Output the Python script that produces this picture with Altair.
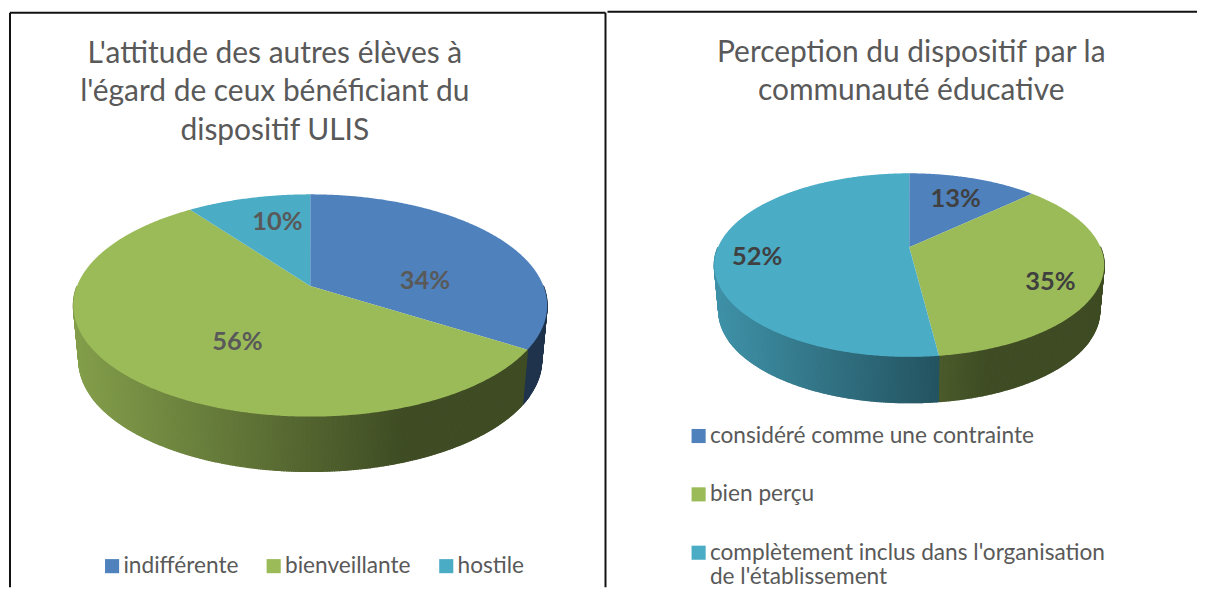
import math
import altair as alt
import pandas as pd

COLORS = ["#4f81bd", "#9bbb59", "#4bacc6"]
GREY = "#595959"

left_title = ["L'attitude des autres élèves à", "l'égard de ceux bénéficiant du", "dispositif ULIS"]
left_labels = ["indifférente", "bienveillante", "hostile"]
left_values = [34, 56, 10]
left_text_x = [418, 230, 270]
left_text_y = [273, 334, 214]

right_title = ["Perception du dispositif par la", "communauté éducative"]
right_labels = ["considéré comme une contrainte", "bien perçu",
                "complètement inclus dans l'organisation"]
right_values = [13, 35, 52]
right_text_x = [349, 444, 150]
right_text_y = [191, 274, 249]

LEFT_W, RIGHT_W, PANEL_H = 599, 591, 580


def hexrgb(c):
    return [int(c[i:i + 2], 16) for i in (1, 3, 5)]


def build(values, labels, cx, apex_y, k, A, B, left, width, depth, shrink):
    """Project a tilted disc: rim point of each share, in panel pixels."""
    def rim(t):
        u, v = math.sin(t), math.cos(t)
        w = 1 + k * v
        return cx + A * u / w, apex_y - B * v / w

    def low(t):
        x, y = rim(t)
        return cx + (x - cx) * shrink, y + depth

    tops, walls = [], []
    start = 0.0
    for val, lab, col in zip(values, labels, COLORS):
        end = start + val / sum(values) * 2 * math.pi
        n = max(2, int(2 * math.degrees(end - start)))
        ts = [start + (end - start) * i / n for i in range(n + 1)]
        ring = [[cx, apex_y]] + [list(rim(t)) for t in ts] + [[cx, apex_y]]
        tops.append({"type": "Feature", "properties": {"label": lab},
                     "geometry": {"type": "Polygon", "coordinates": [ring]}})
        rgb = hexrgb(col)
        for a, b in zip(ts[:-1], ts[1:]):
            if math.cos((a + b) / 2) > 0.0:
                continue
            xa, xb = rim(a)[0], rim(b)[0]
            p = ((xa + xb) / 2 - left) / width
            f = 0.85 - 0.44 * min(max(p, 0) / 0.7, 1)
            shade = "#%02x%02x%02x" % tuple(int(c * f) for c in rgb)
            q = [list(rim(a)), list(rim(b)), list(low(b)), list(low(a)), list(rim(a))]
            walls.append({"type": "Feature", "properties": {"shade": shade},
                          "geometry": {"type": "Polygon", "coordinates": [q]}})
        start = end
    return tops, walls


def panel(title, title_dx, title_offset, width, labels, values, tx, ty, text_color, geom, legend, frame):
    tops, walls = build(values, labels, *geom)
    proj = dict(type="identity", scale=1, translate=[0, 0])
    wall = alt.Chart(alt.Data(values=walls)).mark_geoshape(strokeWidth=1.2).encode(
        fill=alt.Fill("properties.shade:N", scale=None, legend=None),
        stroke=alt.Stroke("properties.shade:N", scale=None, legend=None),
    ).project(**proj)
    top = alt.Chart(alt.Data(values=tops)).mark_geoshape(filled=True, strokeWidth=0).encode(
        color=alt.Color("properties.label:N",
                        scale=alt.Scale(domain=labels, range=COLORS),
                        sort=None, legend=legend),
    ).project(**proj)
    txt = alt.Chart(pd.DataFrame({
        "t": [f"{v}%" for v in values], "x": tx, "y": ty,
    })).mark_text(font="Lato", fontWeight="bold", fontSize=25.5, color=text_color).encode(
        x=alt.X("x:Q", scale=None, axis=None),
        y=alt.Y("y:Q", scale=None, axis=None),
        text="t:N",
    )
    rules = [
        alt.Chart(alt.Data(values=[{"a": 1}])).mark_rule(color="#111111", strokeWidth=2).encode(
            x=alt.value(x1), x2=alt.value(x2), y=alt.value(y1), y2=alt.value(y2))
        for x1, y1, x2, y2 in frame
    ]
    return alt.layer(wall, top, txt, *rules).properties(
        width=width, height=PANEL_H,
        title=alt.TitleParams(
            text=title, font="Lato", fontSize=30, fontWeight="normal", color=GREY,
            anchor="middle", frame="group", dx=title_dx, offset=title_offset, lineHeight=39,
        ),
    )


left_legend = alt.Legend(
    title=None, orient="none", legendX=93, legendY=547, direction="horizontal", columns=3,
    symbolType="square", symbolSize=200, symbolStrokeWidth=0, labelFont="Lato", labelFontSize=22.7,
    labelColor=GREY, labelOffset=0, columnPadding=24, labelLimit=400, padding=0,
)
right_legend = alt.Legend(
    title=None, orient="none", legendX=80, legendY=417, direction="vertical", columns=1,
    symbolType="square", symbolSize=200, symbolStrokeWidth=0, labelFont="Lato", labelFontSize=22.7,
    labelColor=GREY, labelOffset=0, rowPadding=34.5, labelLimit=500, padding=0,
    labelExpr="indexof(datum.label, 'complètement') == 0 ? [datum.label, \"de l'établissement\"] : datum.label",
)

left = panel(left_title, -32, -138, LEFT_W, left_labels, left_values, left_text_x, left_text_y, GREY,
             (303, 278, 0.175, 233.8, 108, 65, 475, 55, 0.977), left_legend,
             [(2, 4, 599, 4), (2, 4, 2, 580), (599, 4, 599, 580)])
right = panel(right_title, 9, -98, RIGHT_W, right_labels, right_values, right_text_x, right_text_y, "#404040",
              (302.5, 239, 0.1956, 191.7, 88.5, 107, 391, 46, 0.977), right_legend,
              [(0, 3, 591, 3)])

chart = (
    alt.hconcat(left, right, spacing=0, padding=0)
    .resolve_scale(color="independent", fill="independent", stroke="independent")
    .configure_view(stroke=None)
)

chart.save("out.html", embed_options={"renderer": "svg", "actions": False})
